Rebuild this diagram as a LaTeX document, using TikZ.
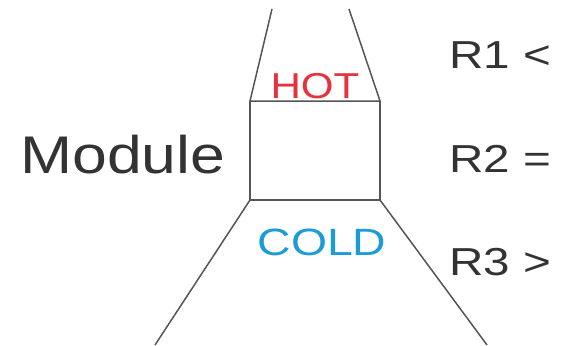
\documentclass[tikz,border=0pt]{standalone}
\usepackage{fontspec}
\setmainfont{Liberation Sans}
\definecolor{hotred}{HTML}{E6323C}
\definecolor{coldblue}{HTML}{1B9CD8}
\definecolor{txtgray}{HTML}{333333}
\definecolor{linegray}{HTML}{555555}
\begin{document}
\begin{tikzpicture}[x=1pt,y=1pt,
  ln/.style={draw=linegray, line width=1.5pt},
  lbl/.style={inner sep=0pt, text=txtgray}]
\useasboundingbox (0,0) rectangle (569,-345);
% funnel coordinates
\coordinate (tl) at (272,-9);
\coordinate (tr) at (349,-9);
\coordinate (bl) at (250,-101);
\coordinate (br) at (380,-101);
\coordinate (cl) at (250,-200);
\coordinate (cr) at (380,-200);
\coordinate (el) at (155,-345);
\coordinate (er) at (487,-345);
\draw[ln] (tl) -- (bl) -- (br) -- (tr);
\draw[ln] (bl) -- (cl) -- (cr) -- (br);
\draw[ln] (cl) -- (el);
\draw[ln] (cr) -- (er);
% labels
\node[lbl, text=hotred, anchor=base, font=\fontsize{36}{36}\selectfont] (hot) at (315,-98) {\scalebox{1.17}[1]{HOT}};
\node[lbl, text=coldblue, anchor=base, font=\fontsize{38}{38}\selectfont] (cold) at (322,-255) {\scalebox{1.22}[1]{COLD}};
\node[lbl, anchor=base west, font=\fontsize{53}{53}\selectfont] (mod) at (20,-173) {\scalebox{1.18}[1]{Module}};
\node[lbl, anchor=base west, font=\fontsize{39}{39}\selectfont] (r1) at (449,-68) {\scalebox{1.22}[1]{R1 <}};
\node[lbl, anchor=base west, font=\fontsize{39}{39}\selectfont] (r2) at (449,-172) {\scalebox{1.22}[1]{R2 =}};
\node[lbl, anchor=base west, font=\fontsize{39}{39}\selectfont] (r3) at (449,-275) {\scalebox{1.22}[1]{R3 >}};
\end{tikzpicture}
\end{document}
